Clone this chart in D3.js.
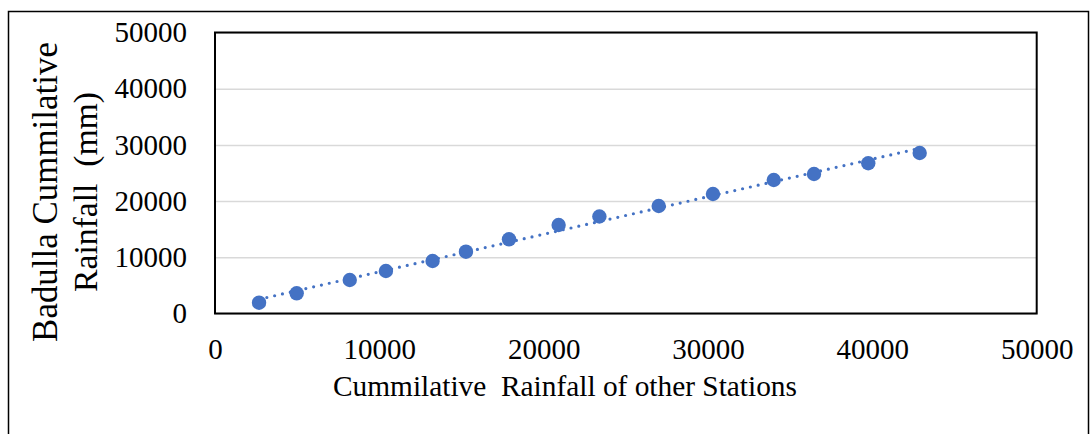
<!DOCTYPE html>
<html>
<head>
<meta charset="utf-8">
<script src="https://cdn.jsdelivr.net/npm/d3@7"></script>
<style>
  html, body { margin: 0; padding: 0; background: #fff; }
  svg { display: block; }
</style>
</head>
<body>
<svg id="chart" width="1090" height="434"></svg>
<script>
// Cumulative rainfall: other stations (x) vs Badulla (y), in mm
const otherStations = [2680, 4970, 8200, 10400, 13240, 15270, 17890, 20910, 23390, 27000, 30300, 34000, 36450, 39750, 42880];
const badulla       = [1920, 3590, 5960, 7560, 9340, 11000, 13200, 15750, 17260, 19130, 21260, 23750, 24820, 26730, 28560];
const xTicks = [0, 10000, 20000, 30000, 40000, 50000];
const yTicks = [0, 10000, 20000, 30000, 40000, 50000];
const xTitle = "Cummilative  Rainfall of other Stations";
const yTitleLines = ["Badulla Cummilative", "Rainfall  (mm)"];

const FONT = '"Liberation Serif", "Times New Roman", serif';
const svg = d3.select("#chart");
const plot = { left: 215, top: 32.5, right: 1036.7, bottom: 313.5 };

// Outer chart frame
svg.append("rect")
  .attr("x", 8.5).attr("y", 11.5)
  .attr("width", 1080).attr("height", 440)
  .attr("fill", "#fff").attr("stroke", "#000").attr("stroke-width", 1.5);

const x = d3.scaleLinear().domain([0, 50000]).range([plot.left, plot.right]);
const y = d3.scaleLinear().domain([0, 50000]).range([plot.bottom, plot.top]);

// Horizontal gridlines
svg.append("g")
  .attr("transform", `translate(${plot.left},0)`)
  .call(d3.axisLeft(y).tickValues(yTicks).tickSize(-(plot.right - plot.left)).tickFormat(""))
  .call(g => g.select(".domain").remove())
  .call(g => g.selectAll("line").attr("stroke", "#d9d9d9").attr("stroke-width", 1.5));

// Y tick labels
svg.append("g")
  .attr("transform", `translate(${plot.left},0)`)
  .call(d3.axisLeft(y).tickValues(yTicks).tickSize(0).tickPadding(28).tickFormat(d3.format("d")))
  .attr("font-family", FONT).attr("font-size", 29)
  .call(g => g.select(".domain").remove())
  .call(g => g.selectAll("text").attr("fill", "#000").style("font-family", FONT).style("font-size", "29px"));

// X tick labels
svg.append("g")
  .attr("transform", `translate(0,${plot.bottom})`)
  .call(d3.axisBottom(x).tickValues(xTicks).tickSize(0).tickPadding(25).tickFormat(d3.format("d")))
  .attr("font-family", FONT).attr("font-size", 29)
  .call(g => g.select(".domain").remove())
  .call(g => g.selectAll("text").attr("fill", "#000").style("font-family", FONT).style("font-size", "29px"));

// Least-squares linear trendline
const mx = d3.mean(otherStations), my = d3.mean(badulla);
const slope = d3.sum(otherStations, (v, i) => (v - mx) * (badulla[i] - my)) /
              d3.sum(otherStations, v => (v - mx) * (v - mx));
const intercept = my - slope * mx;
const x0 = d3.min(otherStations), x1 = d3.max(otherStations);
svg.append("line")
  .attr("x1", x(x0)).attr("y1", y(slope * x0 + intercept))
  .attr("x2", x(x1)).attr("y2", y(slope * x1 + intercept))
  .attr("stroke", "#4472C4").attr("stroke-width", 3.2)
  .attr("stroke-linecap", "round").attr("stroke-dasharray", "0 8");

// Data points
svg.append("g").selectAll("circle")
  .data(otherStations.map((v, i) => [v, badulla[i]]))
  .join("circle")
  .attr("cx", d => x(d[0])).attr("cy", d => y(d[1]))
  .attr("r", 7.2).attr("fill", "#4472C4");

// Plot-area frame
svg.append("rect")
  .attr("x", plot.left).attr("y", plot.top)
  .attr("width", plot.right - plot.left).attr("height", plot.bottom - plot.top)
  .attr("fill", "none").attr("stroke", "#000").attr("stroke-width", 2);

// Size a title so its run length matches the given span
function fitText(sel, width, base) {
  sel.attr("font-size", base);
  const w = sel.node().getComputedTextLength();
  sel.attr("font-size", base * width / w);
}

// Axis titles
const xt = svg.append("text")
  .attr("x", 565).attr("y", 396)
  .attr("text-anchor", "middle")
  .attr("font-family", FONT).attr("fill", "#000")
  .style("white-space", "pre")
  .text(xTitle);
fitText(xt, 464, 30);

const yTitleSpans = [{ cx: 57, len: 300 }, { cx: 97, len: 200 }];
yTitleLines.forEach((line, i) => {
  const t = svg.append("text")
    .attr("transform", `translate(${yTitleSpans[i].cx},192) rotate(-90)`)
    .attr("text-anchor", "middle")
    .attr("font-family", FONT).attr("fill", "#000")
    .style("white-space", "pre")
    .text(line);
  fitText(t, yTitleSpans[i].len, 30);
});
</script>
</body>
</html>
